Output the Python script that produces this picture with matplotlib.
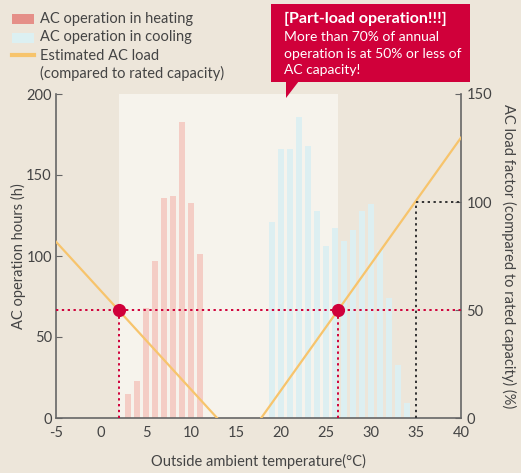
import matplotlib
matplotlib.use("Agg")
import matplotlib.pyplot as plt
from matplotlib.patches import Rectangle, Polygon
from matplotlib.lines import Line2D

# ---- data ----
heat_temps = [3, 4, 5, 6, 7, 8, 9, 10, 11]
heat_hours = [15, 23, 68, 97, 136, 137, 183, 133, 101]
cool_temps = [19, 20, 21, 22, 23, 24, 25, 26, 27, 28, 29, 30, 31, 32, 33, 34]
cool_hours = [121, 166, 166, 186, 168, 128, 106, 117, 109, 116, 128, 132, 104, 74, 33, 9]
load_heat_x = [-5, 12.9]
load_heat_y = [81.6, 0]
load_cool_x = [17.8, 40]
load_cool_y = [0, 129.8]
band_range = [2, 26.3]
pt_temps = [2, 26.3]
pt_load = [50, 50]
rated_temp = 35
rated_load = 100
x_ticks = [-5, 0, 5, 10, 15, 20, 25, 30, 35, 40]
y_ticks = [0, 50, 100, 150, 200]
y2_ticks = [0, 50, 100, 150]

BG = "#ede6da"
BAND = "#f6f3ec"
HEAT = "#f4cdc5"
COOL = "#ddeff1"
HEAT_LEG = "#e58f88"
COOL_LEG = "#dcf0f2"
LOAD = "#f7c46c"
RED = "#d0003a"
TXT = "#444444"
SPINE = "#666666"

plt.rcParams['font.family'] = ['Lato', 'DejaVu Sans']

W, H = 521, 473
fig = plt.figure(figsize=(W / 100, H / 100), dpi=100, facecolor=BG)
ax = fig.add_axes([56 / W, (H - 418) / H, 405 / W, 324 / H])
ax.set_facecolor(BG)
ax2 = ax.twinx()

ax.set_xlim(-5, 40)
ax.set_ylim(0, 200)
ax2.set_ylim(0, 150)

ax.axvspan(band_range[0], band_range[1], color=BAND, zorder=0, lw=0)

ax.bar(heat_temps, heat_hours, width=0.68, color=HEAT, zorder=2)
ax.bar(cool_temps, cool_hours, width=0.68, color=COOL, zorder=2)

ax2.plot(load_heat_x, load_heat_y, color=LOAD, lw=1.6, zorder=3)
ax2.plot(load_cool_x, load_cool_y, color=LOAD, lw=1.6, zorder=3)

# red dotted guides
ax2.axhline(pt_load[0], color=RED, ls=(0, (1.2, 1.8)), lw=1.4, zorder=4)
for t, l in zip(pt_temps, pt_load):
    ax2.plot([t, t], [0, l], color=RED, ls=(0, (1.2, 1.8)), lw=1.4, zorder=4)
ax2.scatter(pt_temps, pt_load, s=90, color=RED, zorder=5, lw=0)

# black dotted rated guides
ax2.plot([rated_temp, rated_temp], [0, rated_load], color="#333333", ls=(0, (1.2, 1.8)), lw=1.4, zorder=4)
ax2.plot([rated_temp, 40], [rated_load, rated_load], color="#333333", ls=(0, (1.2, 1.8)), lw=1.4, zorder=4)

ax.set_xticks(x_ticks)
ax.set_xticklabels([str(v) for v in x_ticks])
ax.set_yticks(y_ticks)
ax2.set_yticks(y2_ticks)

for a in (ax, ax2):
    for s in a.spines.values():
        s.set_visible(False)
ax.spines['left'].set_visible(True)
ax.spines['bottom'].set_visible(True)
ax2.spines['right'].set_visible(True)
for s in (ax.spines['left'], ax.spines['bottom'], ax2.spines['right']):
    s.set_color(SPINE)
    s.set_linewidth(1.2)

ax.tick_params(axis='x', length=0, pad=6, labelsize=10.5, labelcolor=TXT)
ax.tick_params(axis='y', direction='in', length=4, color=SPINE, pad=3, labelsize=10.5, labelcolor=TXT)
ax2.tick_params(axis='y', direction='in', length=4, color=SPINE, pad=4, labelsize=10.5, labelcolor=TXT)

fig.text(18 / W, 1 - 256 / H, "AC operation hours (h)", rotation=90, ha='center', va='center',
         fontsize=10.5, color=TXT)
fig.text(509 / W, 1 - 256 / H, "AC load factor (compared to rated capacity) (%)", rotation=-90,
         ha='center', va='center', fontsize=10.5, color=TXT)
fig.text(258 / W, 1 - 461 / H, "Outside ambient temperature(°C)", ha='center', va='center',
         fontsize=10.5, color=TXT)

# legend (manual)
fig.patches.append(Rectangle((12 / W, 1 - 24 / H), 22 / W, 10 / H, transform=fig.transFigure,
                             color=HEAT_LEG, lw=0))
fig.patches.append(Rectangle((12 / W, 1 - 43 / H), 22 / W, 10 / H, transform=fig.transFigure,
                             color=COOL_LEG, lw=0))
fig.lines.append(Line2D([12 / W, 34 / W], [1 - 55 / H, 1 - 55 / H], transform=fig.transFigure,
                        color=LOAD, lw=3))
leg_texts = ["AC operation in heating", "AC operation in cooling", "Estimated AC load",
             "(compared to rated capacity)"]
for i, t in enumerate(leg_texts):
    fig.text(40 / W, 1 - (19 + 18.3 * i) / H, t, ha='left', va='center', fontsize=10.5, color=TXT)

# callout
fig.patches.append(Rectangle((271 / W, 1 - 82 / H), 199 / W, 78 / H, transform=fig.transFigure,
                             color=RED, lw=0))
fig.patches.append(Polygon([(286 / W, 1 - 81 / H), (299 / W, 1 - 81 / H), (286 / W, 1 - 98 / H)],
                           closed=True, transform=fig.transFigure, color=RED, lw=0))
fig.text(284 / W, 1 - 19 / H, "[Part-load operation!!!]", ha='left', va='center', fontsize=11.5,
         fontweight='bold', color='white')
for i, t in enumerate(["More than 70% of annual", "operation is at 50% or less of", "AC capacity!"]):
    fig.text(284 / W, 1 - (37 + 16.5 * i) / H, t, ha='left', va='center', fontsize=10, color='white')

fig.savefig("out.png", dpi=100, facecolor=BG)
